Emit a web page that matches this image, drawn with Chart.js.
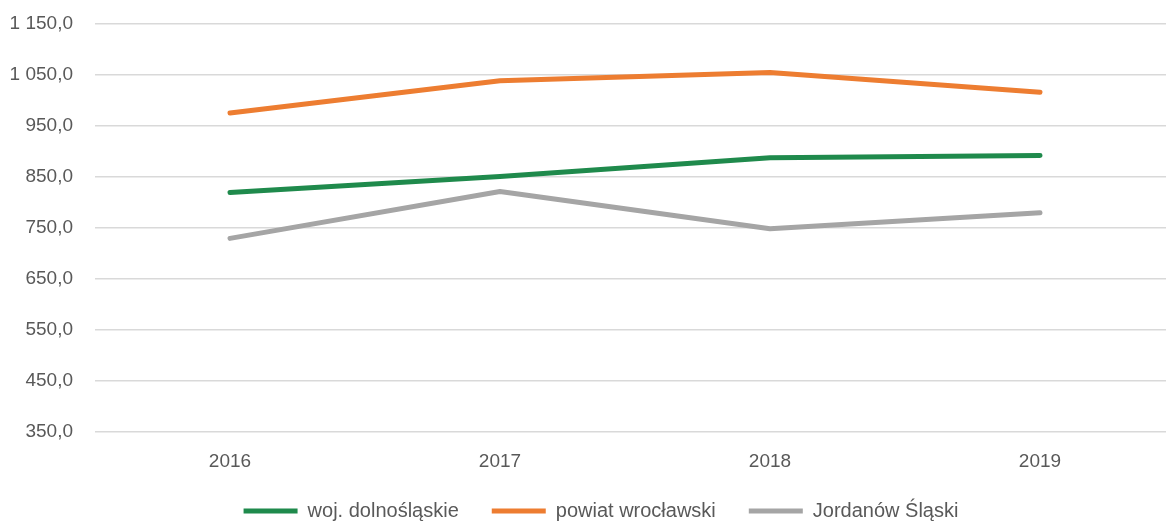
<!DOCTYPE html>
<html>
<head>
<meta charset="utf-8">
<script src="https://cdn.jsdelivr.net/npm/chart.js"></script>
<style>
  html, body { margin: 0; padding: 0; background: #fff; overflow: hidden; }
  #wrap { position: relative; width: 1203px; height: 524px; }
</style>
</head>
<body>
<div id="wrap"><canvas id="chartLines"></canvas></div>
<script>
const years = ['2016', '2017', '2018', '2019'];
const wojDolnoslaskie = [819.5, 851.0, 887.8, 892.4];
const powiatWroclawski = [975.6, 1038.8, 1055.0, 1016.0];
const jordanowSlaski = [729.7, 821.4, 748.6, 780.0];
const yTicks = [350, 450, 550, 650, 750, 850, 950, 1050, 1150];

const fontFamily = "'Liberation Sans', Arial, sans-serif";

// format "1 150,0"
function formatPl(v) {
    const parts = v.toFixed(1).split('.');
    const intPart = parts[0].replace(/\B(?=(\d{3})+(?!\d))/g, ' ');
    return intPart + ',' + parts[1];
}

function lineSet(label, data, color) {
    return {
        label: label,
        data: data,
        borderColor: color,
        backgroundColor: color,
        borderWidth: 5,
        borderCapStyle: 'round',
        borderJoinStyle: 'round',
        pointRadius: 0,
        pointHoverRadius: 0,
        tension: 0,
        fill: false
    };
}

const ctx = document.getElementById('chartLines').getContext('2d');
new Chart(ctx, {
    type: 'line',
    data: {
        labels: years,
        datasets: [
            lineSet('woj. dolnośląskie', wojDolnoslaskie, '#1f8a4c'),
            lineSet('powiat wrocławski', powiatWroclawski, '#ed7d31'),
            lineSet('Jordanów Śląski', jordanowSlaski, '#a5a5a5')
        ]
    },
    options: {
        responsive: true,
        maintainAspectRatio: false,
        animation: false,
        layout: {
            padding: { top: 24, left: 27, right: 28, bottom: -7 }
        },
        plugins: {
            tooltip: { enabled: false },
            legend: {
                position: 'bottom',
                labels: {
                    color: '#595959',
                    font: { family: fontFamily, size: 20 },
                    boxWidth: 54,
                    boxHeight: 5,
                    useBorderRadius: true,
                    borderRadius: 2.5,
                    padding: 33,
                    generateLabels: function (chart) {
                        return chart.data.datasets.map(function (ds, i) {
                            return {
                                text: ds.label,
                                fillStyle: ds.borderColor,
                                strokeStyle: ds.borderColor,
                                lineWidth: 0,
                                fontColor: '#595959',
                                datasetIndex: i,
                                hidden: false
                            };
                        });
                    }
                }
            }
        },
        scales: {
            x: {
                offset: true,
                grid: { display: false, drawTicks: false },
                border: { display: false },
                afterFit: function (scale) {
                    scale.height = 36;
                },
                ticks: {
                    color: '#595959',
                    font: { family: fontFamily, size: 19 },
                    padding: 18,
                    maxRotation: 0
                }
            },
            y: {
                min: 350,
                max: 1150,
                afterBuildTicks: function (scale) {
                    scale.ticks = yTicks.map(function (v) { return { value: v }; });
                },
                afterFit: function (scale) {
                    // fixed axis width, labels may spill left of it
                    scale.width = 68;
                    scale.paddingTop = 0;
                    scale.paddingBottom = 0;
                    scale._computeLabelArea = function () { return undefined; };
                },
                grid: { color: '#d9d9d9', lineWidth: 1.5, drawTicks: false },
                border: { display: false },
                ticks: {
                    color: '#595959',
                    font: { family: fontFamily, size: 19 },
                    padding: 22,
                    callback: function (v) { return formatPl(v); }
                }
            }
        }
    }
});
</script>
</body>
</html>
